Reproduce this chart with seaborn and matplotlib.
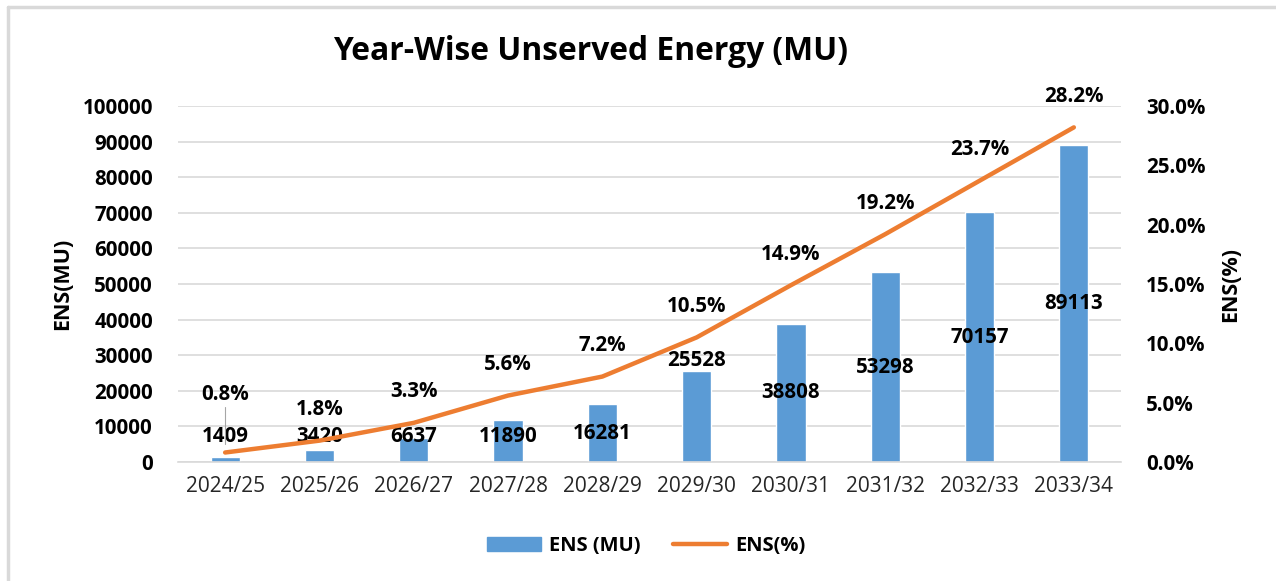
import numpy as np
import pandas as pd
import matplotlib
matplotlib.use("Agg")
import matplotlib.pyplot as plt
import seaborn as sns
from matplotlib.lines import Line2D
from matplotlib.patches import Patch

years = ["2024/25", "2025/26", "2026/27", "2027/28", "2028/29",
         "2029/30", "2030/31", "2031/32", "2032/33", "2033/34"]
ens_mu = [1409, 3420, 6637, 11890, 16281, 25528, 38808, 53298, 70157, 89113]
ens_pct = [0.8, 1.8, 3.3, 5.6, 7.2, 10.5, 14.9, 19.2, 23.7, 28.2]

df = pd.DataFrame({"year": years, "mu": ens_mu, "pct": ens_pct})

sns.set_theme(style="white")
plt.rcParams['font.family'] = ['Open Sans', 'DejaVu Sans']
plt.rcParams['text.color'] = 'black'
plt.rcParams['axes.labelcolor'] = 'black'
plt.rcParams['ytick.color'] = 'black'

blue = "#5B9BD5"
orange = "#ED7D31"
grid = "#D9D9D9"

fig = plt.figure(figsize=(12.76, 5.81), dpi=100)
ax = fig.add_axes([178 / 1276, 1 - 462 / 581, 943 / 1276, 356 / 581])

sns.barplot(data=df, x="year", y="mu", color=blue, width=0.31,
            saturation=1, ax=ax, zorder=2)
ax.set_ylim(0, 100000)
ax.set_xlim(-0.5, len(years) - 0.5)
ax.set_yticks(np.arange(0, 100001, 10000))
ax.yaxis.grid(True, color=grid, lw=1.2, zorder=0)
ax.set_axisbelow(True)
for s in ["top", "right", "left"]:
    ax.spines[s].set_visible(False)
ax.spines["bottom"].set_color(grid)
ax.spines["bottom"].set_linewidth(1.2)
ax.tick_params(axis="both", length=0)
ax.tick_params(axis="y", labelsize=14.8, pad=18)
ax.tick_params(axis="x", labelsize=15, pad=10, colors="#262626")
for t in ax.get_yticklabels():
    t.set_fontweight("bold")
ax.set_xlabel("")
ax.set_ylabel("ENS(MU)", fontsize=15.5, fontweight="bold")
ax.yaxis.set_label_coords((73 - 178) / 943, 0.5)

ax2 = ax.twinx()
sns.lineplot(x=np.arange(len(years)), y=df["pct"], color=orange, lw=3.2,
             ax=ax2, zorder=3)
ax2.set_ylim(0, 30)
ax2.set_yticks(np.arange(0, 30.1, 5))
ax2.set_yticklabels([f"{v:.1f}%" for v in np.arange(0, 30.1, 5)],
                    fontweight="bold", fontsize=14.8)
ax2.tick_params(axis="y", length=0, pad=18)
for s in ["top", "right", "left", "bottom"]:
    ax2.spines[s].set_visible(False)
ax2.set_ylabel("ENS(%)", fontsize=15.5, fontweight="bold")
ax2.yaxis.set_label_coords((1220 - 178) / 943, 0.5)
ax2.set_xlim(-0.5, len(years) - 0.5)

# bar value labels (centre of bar, lifted for the short ones)
for i, v in enumerate(ens_mu):
    y = max(v / 2, 7200)
    if i == 5:
        y = v + 2900
    ax.text(i, y, str(v), ha="center", va="center", fontsize=14.8,
            fontweight="bold", zorder=5)

# percentage labels above the line
for i, p in enumerate(ens_pct):
    off = 4.9 if i == 0 else 2.6
    ax2.text(i, p + off, f"{p:.1f}%", ha="center", va="center", fontsize=14.8,
             fontweight="bold", zorder=5)
ax2.plot([0, 0], [1.5, 4.6], color="#A6A6A6", lw=0.8, zorder=4)

fig.text(591 / 1276, 1 - 52 / 581, "Year-Wise Unserved Energy (MU)",
         ha="center", va="center", fontsize=22.9, fontweight="bold")

handles = [Patch(color=blue, label="ENS (MU)"),
           Line2D([0], [0], color=orange, lw=3.2, label="ENS(%)")]
leg = fig.legend(handles=handles, loc="center", ncol=2, frameon=False,
                 bbox_to_anchor=(646 / 1276, 1 - 546 / 581),
                 prop={"weight": "bold", "size": 14.5}, handlelength=2.7,
                 columnspacing=1.6, handletextpad=0.4)

# chart frame (top and left edges visible)
fig.add_artist(Line2D([8 / 1276, 1], [1 - 7 / 581] * 2, color=grid, lw=2.5,
                      transform=fig.transFigure))
fig.add_artist(Line2D([8 / 1276] * 2, [0, 1 - 7 / 581], color=grid, lw=2.5,
                      transform=fig.transFigure))

fig.savefig("out.png", dpi=100, facecolor="white")
